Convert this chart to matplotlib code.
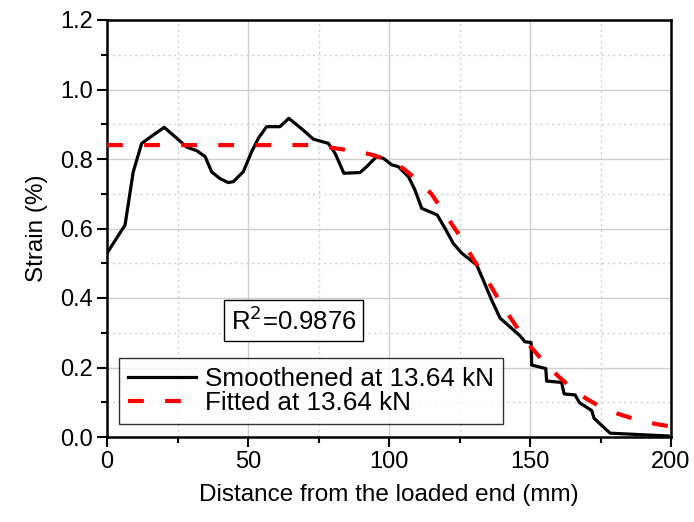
import matplotlib
matplotlib.use('Agg')
import matplotlib.pyplot as plt
from matplotlib.ticker import MultipleLocator, FormatStrFormatter

plt.rcParams['font.family'] = ['Liberation Sans', 'DejaVu Sans']

# smoothened strain profile along the bond length
dist_smooth = [0, 6.4, 9.3, 12.3, 16.4, 20.3, 24.7, 28.3, 31.8, 34.8, 37.1, 40.0,
               43.0, 44.8, 48.3, 51.3, 53.7, 56.6, 61.3, 64.5, 69.6, 73.2, 78.5,
               80.9, 84.0, 89.7, 92.1, 95.6, 98.0, 101.0, 103.3, 106.9, 109.2,
               111.6, 114.5, 117.1, 119.9, 122.8, 125.8, 131.1, 133.4, 136.4,
               139.4, 142.9, 146.5, 148.2, 150.4, 150.6, 155.6, 155.9, 161.2,
               162.1, 166.0, 167.5, 171.9, 172.7, 178.4, 199.0]
strain_smooth = [0.529, 0.61, 0.763, 0.845, 0.869, 0.891, 0.86, 0.834, 0.824, 0.807,
                 0.763, 0.744, 0.732, 0.735, 0.763, 0.821, 0.86, 0.893, 0.893, 0.917,
                 0.883, 0.857, 0.845, 0.816, 0.759, 0.761, 0.778, 0.807, 0.802,
                 0.783, 0.778, 0.749, 0.711, 0.658, 0.648, 0.639, 0.60, 0.557,
                 0.529, 0.495, 0.452, 0.394, 0.342, 0.317, 0.291, 0.274, 0.272,
                 0.207, 0.197, 0.161, 0.157, 0.124, 0.121, 0.099, 0.076, 0.054,
                 0.011, 0.003]

# fitted strain distribution
dist_fit = [0, 75, 80, 90, 95, 100, 105, 110, 115, 120, 125, 130, 135, 140, 145,
            150, 155, 160, 165, 170, 175, 180, 185, 190, 195, 200]
strain_fit = [0.84, 0.84, 0.832, 0.82, 0.81, 0.795, 0.773, 0.74, 0.70, 0.64, 0.58,
              0.51, 0.45, 0.38, 0.32, 0.262, 0.215, 0.175, 0.139, 0.11, 0.087,
              0.07, 0.057, 0.045, 0.037, 0.03]

fig = plt.figure(figsize=(6.94, 5.22), dpi=100)
ax = fig.add_axes([107/694, 85/522, 564/694, 417/522])

ax.plot(dist_smooth, strain_smooth, color='black', lw=2.3,
        label='Smoothened at 13.64 kN', zorder=3)
ax.plot(dist_fit, strain_fit, color='#ff0000', lw=3.0, dashes=(3.8, 5.1),
        label='Fitted at 13.64 kN', zorder=4)

ax.set_xlim(0, 200)
ax.set_ylim(0, 1.2)
ax.xaxis.set_major_locator(MultipleLocator(50))
ax.xaxis.set_minor_locator(MultipleLocator(25))
ax.yaxis.set_major_locator(MultipleLocator(0.2))
ax.yaxis.set_minor_locator(MultipleLocator(0.1))
ax.yaxis.set_major_formatter(FormatStrFormatter('%.1f'))

ax.grid(which='major', color='#cfcfcf', lw=1.0, ls='-')
ax.grid(which='minor', color='#cfcfcf', lw=1.0, ls=(0, (1.5, 2.5)))
ax.set_axisbelow(True)

ax.tick_params(which='major', direction='out', length=7, width=1.5,
               labelsize=17, pad=3)
ax.tick_params(which='minor', direction='out', length=4, width=1.5)
for sp in ax.spines.values():
    sp.set_linewidth(1.8)

ax.set_xlabel('Distance from the loaded end (mm)', fontsize=17.5, labelpad=8)
ax.set_ylabel('Strain (%)', fontsize=17.5, labelpad=9)

leg = ax.legend(loc='lower left', bbox_to_anchor=(0.021, 0.031), fontsize=18.8,
                frameon=True, fancybox=False, edgecolor='black',
                handlelength=2.6, handletextpad=0.35, borderpad=0.35,
                labelspacing=0.0, borderaxespad=0)
leg.get_frame().set_linewidth(1.0)

ax.text(0.331, 0.279, r'R$^2$=0.9876', transform=ax.transAxes, fontsize=18.5,
        ha='center', va='center',
        bbox=dict(boxstyle='square,pad=0.25', fc='white', ec='black', lw=1.0))

fig.savefig('out.png', dpi=100)
